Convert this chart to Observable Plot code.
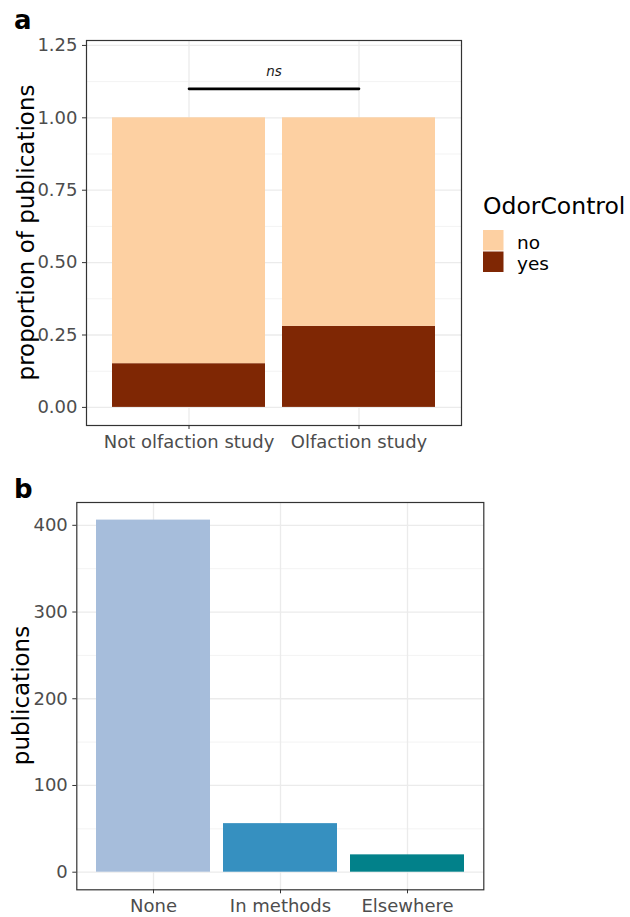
<!DOCTYPE html>
<html><head><meta charset="utf-8">
<script src="https://cdn.jsdelivr.net/npm/d3@7"></script>
<script src="https://cdn.jsdelivr.net/npm/@observablehq/plot@0.6"></script>
<style>
body{margin:0;background:#fff;font-family:"DejaVu Sans",sans-serif;}
#wrap{width:630px;}
svg{display:block;}
</style></head><body><div id="wrap"></div>
<script>
// ---- Panel a data ----
const studyTypes = ["Not olfaction study", "Olfaction study"];
const odorLevels = ["no", "yes"];
const odorColors = ["#FDD0A2", "#7F2704"];
const propYes = [0.151, 0.28];
const propNo = [0.849, 0.72];
const propTicks = [0, 0.25, 0.5, 0.75, 1, 1.25];
const propMinor = [0.125, 0.375, 0.625, 0.875, 1.125];
const sigLabel = "ns";
const sigY = 1.1;
const sigLabelY = 1.16;
const legendTitle = "OdorControl";
const yTitleA = "proportion of publications";

// ---- Panel b data ----
const reportCats = ["None", "In methods", "Elsewhere"];
const reportCounts = [406, 56, 20];
const reportColors = ["#A6BDDB", "#3690C0", "#02818A"];
const pubTicks = [0, 100, 200, 300, 400];
const pubMinor = [50, 150, 250, 350];
const yTitleB = "publications";

const FONT = "DejaVu Sans";
const TICK_FS = 18;
const wrap = document.getElementById("wrap");

// ---------- Panel a ----------
const rowsA = [];
studyTypes.forEach((s, i) => rowsA.push({study: s, odor: "yes", p: propYes[i]}));
studyTypes.forEach((s, i) => rowsA.push({study: s, odor: "no", p: propNo[i]}));
const sigRows = studyTypes.map(s => ({study: s, y: sigY}));

const chartA = Plot.plot({
  width: 630, height: 460,
  marginTop: 40, marginRight: 169, marginBottom: 35, marginLeft: 86,
  style: {fontFamily: FONT, background: "white"},
  x: {domain: studyTypes, paddingInner: 0.1, paddingOuter: 0.15},
  y: {domain: [-0.0625, 1.267]},
  color: {domain: odorLevels, range: odorColors},
  marks: [
    Plot.ruleY(propMinor, {stroke: "#F3F3F3", strokeWidth: 1}),
    Plot.ruleY(propTicks, {stroke: "#EBEBEB", strokeWidth: 1.3}),
    Plot.ruleX(studyTypes, {stroke: "#EBEBEB", strokeWidth: 1.3}),
    Plot.barY(rowsA, {x: "study", y: "p", fill: "odor", order: ["yes", "no"]}),
    Plot.line(sigRows, {x: "study", y: "y", stroke: "black", strokeWidth: 2.6}),
    Plot.text([sigLabel], {text: d => d, y: [sigLabelY], frameAnchor: "middle", fontStyle: "italic", fontSize: 13.5, fill: "#1a1a1a"}),
    Plot.frame({stroke: "#333333", strokeWidth: 1.2}),
    Plot.axisY({ticks: propTicks, tickFormat: d => d.toFixed(2), tickSize: 4, tickPadding: 5, fontSize: TICK_FS, fill: "#4D4D4D", stroke: "#333333", label: null}),
    Plot.axisX({tickSize: 4, tickPadding: 6, fontSize: TICK_FS, fill: "#4D4D4D", stroke: "#333333", label: null})
  ]
});
wrap.appendChild(chartA);
{
  const svg = d3.select(chartA);
  svg.append("text").attr("x", 14).attr("y", 29).attr("font-size", 26).attr("font-weight", "bold")
    .attr("text-anchor", "start").attr("font-family", FONT).attr("fill", "black").text("a");
  svg.append("text").attr("transform", "translate(26,232.5) rotate(-90)").attr("text-anchor", "middle")
    .attr("dominant-baseline", "central").attr("font-size", 23).attr("font-family", FONT).attr("fill", "black").text(yTitleA);
  svg.append("text").attr("x", 483).attr("y", 213.5).attr("font-size", 23.5).attr("text-anchor", "start")
    .attr("font-family", FONT).attr("fill", "black").text(legendTitle);
  odorLevels.forEach((lv, i) => {
    svg.append("rect").attr("x", 483).attr("y", 230 + i * 21.5).attr("width", 20.5).attr("height", 20.5).attr("fill", odorColors[i]);
    svg.append("text").attr("x", 517).attr("y", 248.5 + i * 21.5).attr("font-size", 18.5).attr("text-anchor", "start")
      .attr("font-family", FONT).attr("fill", "black").text(lv);
  });
}

// ---------- Panel b ----------
const rowsB = reportCats.map((c, i) => ({cat: c, n: reportCounts[i]}));
const chartB = Plot.plot({
  width: 630, height: 457,
  marginTop: 42, marginRight: 146.7, marginBottom: 27.7, marginLeft: 76.3,
  style: {fontFamily: FONT, background: "white"},
  x: {domain: reportCats, paddingInner: 0.1, paddingOuter: 0.15},
  y: {domain: [-20.3, 426.3]},
  color: {domain: reportCats, range: reportColors},
  marks: [
    Plot.ruleY(pubMinor, {stroke: "#F3F3F3", strokeWidth: 1}),
    Plot.ruleY(pubTicks, {stroke: "#EBEBEB", strokeWidth: 1.3}),
    Plot.ruleX(reportCats, {stroke: "#EBEBEB", strokeWidth: 1.3}),
    Plot.barY(rowsB, {x: "cat", y: "n", fill: "cat"}),
    Plot.frame({stroke: "#333333", strokeWidth: 1.2}),
    Plot.axisY({ticks: pubTicks, tickSize: 4, tickPadding: 5, fontSize: TICK_FS, fill: "#4D4D4D", stroke: "#333333", label: null}),
    Plot.axisX({tickSize: 4, tickPadding: 5, fontSize: TICK_FS, fill: "#4D4D4D", stroke: "#333333", label: null})
  ]
});
wrap.appendChild(chartB);
{
  const svg = d3.select(chartB);
  svg.append("text").attr("x", 14).attr("y", 38).attr("font-size", 26).attr("font-weight", "bold")
    .attr("text-anchor", "start").attr("font-family", FONT).attr("fill", "black").text("b");
  svg.append("text").attr("transform", "translate(20.5,235.5) rotate(-90)").attr("text-anchor", "middle")
    .attr("dominant-baseline", "central").attr("font-size", 23).attr("font-family", FONT).attr("fill", "black").text(yTitleB);
}
</script></body></html>
